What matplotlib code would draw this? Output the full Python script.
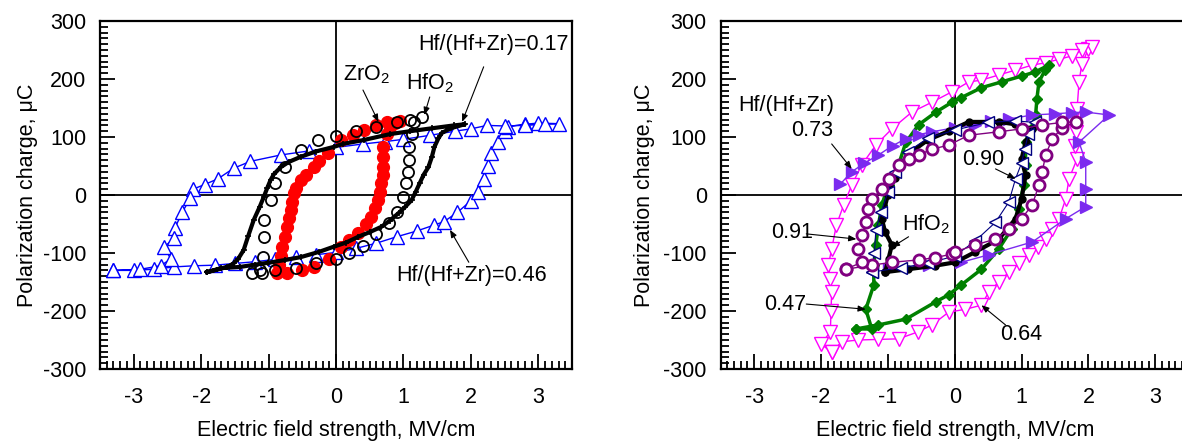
import matplotlib
matplotlib.use("Agg")
import matplotlib.pyplot as plt
from matplotlib.ticker import MultipleLocator

plt.rcParams['font.family'] = ['Liberation Sans', 'DejaVu Sans']
plt.rcParams['axes.unicode_minus'] = False
plt.rcParams['mathtext.fontset'] = 'custom'
plt.rcParams['mathtext.rm'] = 'Liberation Sans'
plt.rcParams['mathtext.default'] = 'regular'

FS = 15.5

# ---------------- Left panel data ----------------
x046 = [-3.3, -3.0, -2.7, -2.4, -2.1, -1.8, -1.5, -1.2, -0.9, -0.6, -0.3, 0.0, 0.3, 0.6, 0.9, 1.2,
        1.45, 1.6, 1.8, 2.0, 2.1, 2.2, 2.25, 2.3, 2.4, 2.5, 2.55, 2.8, 3.0, 3.3,
        3.1, 2.8, 2.5, 2.24, 2.0, 1.76, 1.4, 1.0, 0.72, 0.4, 0.0, -0.4, -0.82, -1.27, -1.52,
        -1.75, -1.95, -2.12, -2.16, -2.28, -2.39, -2.4, -2.55, -2.45, -2.6, -2.9, -3.3]
y046 = [-130, -130, -128, -124, -122, -121, -118, -115, -111, -107, -103, -99, -92, -83, -72, -62,
        -52, -46, -30, -10, 5, 28, 50, 72, 92, 110, 118, 122, 124, 123,
        122, 120, 119, 120, 114, 110, 103, 96, 92, 88, 82, 76, 69, 58, 46,
        28, 18, 10, -5, -30, -57, -74, -90, -110, -122, -128, -130]

x_hfo2_l = [-1.25, -1.1, -0.9, -0.6, -0.3, 0.0, 0.2, 0.4, 0.6, 0.78, 0.9, 1.0, 1.04, 1.07, 1.09,
            1.09, 1.12, 1.16, 1.27, 1.1, 0.9, 0.6, 0.3, 0.0, -0.27, -0.52, -0.75, -0.9, -0.97,
            -1.07, -1.07, -1.09, -1.12]
y_hfo2_l = [-135, -134, -130, -125, -118, -110, -100, -88, -68, -48, -29, -3, 20, 40, 60,
            83, 105, 125, 135, 130, 125, 118, 110, 102, 95, 78, 48, 20, -9,
            -43, -72, -107, -130]

x_zro2 = [-0.87, -0.72, -0.5, -0.33, -0.1, 0.07, 0.2, 0.33, 0.45, 0.52, 0.58, 0.62, 0.65, 0.67,
          0.69, 0.7, 0.7, 0.7, 0.75, 0.8, 0.87, 0.95, 0.75, 0.6, 0.42, 0.25, 0.07, -0.12, -0.25,
          -0.33, -0.45, -0.52, -0.6, -0.63, -0.65, -0.67, -0.7, -0.72, -0.76, -0.8, -0.82, -0.85]
y_zro2 = [-135, -134, -130, -124, -110, -89, -78, -66, -50, -38, -22, -9, 5, 20,
          35, 48, 65, 83, 105, 118, 124, 128, 125, 120, 112, 104, 95, 72, 58,
          48, 35, 26, 12, 3, -12, -26, -40, -55, -72, -89, -105, -120]

x017 = [-1.91, -1.7, -1.42, -1.2, -1.01, -0.75, -0.52, -0.25, -0.03, 0.15, 0.33, 0.5, 0.67, 0.8,
        0.93, 1.03, 1.12, 1.18, 1.24, 1.3, 1.37, 1.42, 1.46, 1.52, 1.57, 1.7, 1.91,
        1.75, 1.42, 1.1, 0.8, 0.42, 0.1, -0.03, -0.3, -0.52, -0.7, -0.82, -0.92, -0.97, -1.02,
        -1.07, -1.13, -1.22, -1.3, -1.37, -1.45, -1.52, -1.61, -1.91]
y017 = [-133, -126, -124, -120, -117, -112, -107, -98, -89, -82, -72, -64, -55, -44,
        -31, -20, -9, 5, 20, 35, 48, 65, 83, 98, 107, 115, 122,
        120, 115, 110, 105, 95, 88, 83, 75, 66, 57, 48, 36, 26, 12,
        -3, -20, -43, -70, -95, -110, -118, -124, -133]

# ---------------- Right panel data ----------------
x064 = [-1.84, -1.69, -1.44, -1.14, -0.84, -0.55, -0.34, -0.09, 0.16, 0.4, 0.51, 0.66, 0.81, 0.96,
        1.11, 1.25, 1.36, 1.46, 1.56, 1.66, 1.71, 1.83, 1.8, 1.81, 1.83, 1.86, 1.9, 2.0, 2.05,
        1.9, 1.76, 1.56, 1.36, 1.16, 0.9, 0.66, 0.4, 0.21, -0.04, -0.34, -0.64, -0.94, -1.18,
        -1.39, -1.54, -1.66, -1.77, -1.84, -1.89, -1.86, -1.84, -1.85, -1.86, -2.0, -1.84]
y064 = [-271, -253, -250, -249, -248, -236, -224, -202, -197, -190, -167, -150, -133, -118,
        -103, -90, -76, -58, -41, -7, 28, 62, 85, 109, 148, 195, 225, 252, 255,
        250, 240, 234, 228, 224, 215, 207, 198, 195, 178, 160, 143, 114, 86,
        52, 17, -17, -52, -93, -121, -145, -167, -200, -236, -257, -271]

x047 = [-1.48, -1.14, -0.73, -0.28, -0.09, 0.1, 0.4, 0.66, 0.85, 0.96, 1.03, 1.06, 1.06, 1.15,
        1.21, 1.23, 1.26, 1.35, 1.41, 1.2, 1.0, 0.7, 0.4, 0.1, -0.04, -0.28, -0.54, -0.73,
        -0.84, -0.99, -1.09, -1.14, -1.18, -1.21, -1.21, -1.33, -1.24, -1.48]
y047 = [-231, -224, -214, -184, -172, -155, -128, -93, -59, -24, 17, 52, 91, 115,
        138, 166, 195, 215, 224, 212, 205, 195, 185, 168, 160, 143, 121, 91,
        52, 17, -17, -52, -86, -121, -155, -197, -231, -231]

x073 = [-1.71, -1.54, -1.35, -1.14, -0.93, -0.73, -0.54, -0.34, 0.0, 0.31, 0.55, 0.81, 1.16,
        1.5, 1.75, 1.96, 2.31, 1.86, 1.96, 1.96, 1.96, 1.66, 1.16, 0.51, 0.1, -0.39, -0.99]
y073 = [19, 40, 55, 69, 85, 97, 104, 109, 116, 121, 127, 131, 138,
        140, 142, 143, 138, 91, 57, 10, -20, -41, -81, -103, -116, -121, -128]

x091 = [-1.63, -1.24, -0.94, -0.54, -0.3, -0.04, 0.01, 0.31, 0.61, 0.81, 1.0, 1.16, 1.26, 1.31,
        1.36, 1.46, 1.6, 1.81, 1.6, 1.31, 1.0, 0.66, 0.21, -0.09, -0.34, -0.54, -0.69, -0.84,
        -0.99, -1.09, -1.24, -1.29, -1.33, -1.39, -1.44, -1.39, -1.63]
y091 = [-128, -121, -116, -112, -108, -102, -98, -86, -76, -59, -41, -17, 17, 40,
        69, 97, 115, 126, 125, 121, 114, 109, 103, 86, 79, 69, 62, 52,
        28, 10, -7, -24, -47, -69, -93, -116, -128]

x_hfo2_r = [-1.04, -0.7, -0.3, 0.01, 0.31, 0.66, 0.91, 1.0, 1.06, 1.0, 1.06, 1.16, 0.9, 0.66,
            0.21, -0.09, -0.4, -0.7, -0.9, -1.0, -1.09, -1.04, -0.94, -0.99, -1.04]
y_hfo2_r = [-133, -128, -122, -116, -98, -76, -41, -7, 34, 62, 91, 114, 122, 126,
            126, 110, 95, 70, 30, 0, -41, -64, -86, -110, -133]

x090 = [-1.24, -0.8, -0.4, 0.0, 0.3, 0.61, 0.81, 0.91, 1.0, 1.05, 1.1, 1.2, 0.9, 0.5, 0.0,
        -0.4, -0.7, -0.9, -1.0, -1.1, -1.18, -1.2, -1.24]
y090 = [-133, -125, -118, -105, -80, -47, -12, 28, 55, 80, 105, 125, 128, 125, 112,
        98, 75, 40, 5, -30, -60, -100, -133]

xticks = [-3, -2, -1, 0, 1, 2, 3]
yticks = [-300, -200, -100, 0, 100, 200, 300]

fig = plt.figure(figsize=(11.82, 4.41), dpi=100)
axL = fig.add_axes([100/1182, 1-369/441, 472/1182, 348/441])
axR = fig.add_axes([720.7/1182, 1-369/441, 468/1182, 348/441])


def style(ax, ylab_x):
    ax.set_xlim(-3.5, 3.5)
    ax.set_ylim(-300, 300)
    ax.set_xticks(xticks)
    ax.set_yticks(yticks)
    ax.xaxis.set_minor_locator(MultipleLocator(0.1))
    ax.yaxis.set_minor_locator(MultipleLocator(10))
    ax.tick_params(which='both', direction='in', top=False, right=False,
                   labelsize=FS, colors='black', width=1.3)
    ax.tick_params(which='major', length=10.5, pad=10)
    ax.tick_params(axis='x', which='major', pad=13)
    ax.tick_params(which='minor', length=5.5)
    for s in ax.spines.values():
        s.set_linewidth(1.6)
    ax.axhline(0, color='black', lw=1.3, zorder=1)
    ax.axvline(0, color='black', lw=1.3, zorder=1)
    ax.set_xlabel('Electric field strength, MV/cm', fontsize=FS)
    ax.set_ylabel('Polarization charge, \u03bcC', fontsize=FS)
    ax.xaxis.label.set_va('baseline')
    ax.xaxis.set_label_coords(0.5, -0.193)
    ax.yaxis.set_label_coords(ylab_x, 0.5)


style(axL, -0.132)
style(axR, -0.140)

# Left panel plotting
axL.plot(x046, y046, color='blue', lw=1.0, marker='^', ms=10, mfc='white', mec='blue', mew=1.0, zorder=2)
axL.plot(x_zro2, y_zro2, color='red', lw=0, marker='o', ms=8.5, mfc='red', mec='red', zorder=3)
axL.plot(x_hfo2_l, y_hfo2_l, color='black', lw=0, marker='o', ms=8, mfc='none', mec='black', mew=1.3, zorder=4)
axL.plot(x017, y017, color='black', lw=3.0, marker='+', ms=5, mew=1.2, zorder=5)


def arrow(ax, start, end):
    ax.annotate('', xy=end, xytext=start,
                arrowprops=dict(arrowstyle='-|>,head_length=0.45,head_width=0.18',
                                color='black', lw=0.8, shrinkA=0, shrinkB=0), zorder=10)


axL.text(0.45, 207, 'ZrO$_2$', fontsize=FS, ha='center', va='center')
arrow(axL, (0.40, 181), (0.63, 126))
axL.text(1.39, 193, 'HfO$_2$', fontsize=FS, ha='center', va='center')
arrow(axL, (1.39, 169), (1.31, 138))
axL.text(2.34, 259, 'Hf/(Hf+Zr)=0.17', fontsize=FS, ha='center', va='center')
arrow(axL, (2.19, 221), (1.87, 126))
axL.text(2.01, -138, 'Hf/(Hf+Zr)=0.46', fontsize=FS, ha='center', va='center')
arrow(axL, (1.97, -116), (1.69, -60))

# Right panel plotting
axR.plot(x064, y064, color='#FF00FF', lw=1.0, marker='v', ms=10, mfc='white', mec='#FF00FF', mew=1.0, zorder=2)
axR.plot(x047, y047, color='#008000', lw=2.5, marker='D', ms=5, mfc='#008000', mec='#008000', zorder=3)
axR.plot(x073, y073, color='#7B2BEF', lw=1.0, marker='>', ms=9, mfc='#7B2BEF', mec='#7B2BEF', zorder=4)
axR.plot(x_hfo2_r, y_hfo2_r, color='black', lw=3.0, marker='o', ms=5, mfc='black', mec='black', zorder=5)
axR.plot(x090, y090, color='#000080', lw=0.8, marker='<', ms=9, mfc='white', mec='#000080', mew=1.0, zorder=6)
axR.plot(x091, y091, color='#800080', lw=1.0, marker='o', ms=8, mfc='white', mec='#800080', mew=2.0, zorder=7)

axR.text(-2.52, 155, 'Hf/(Hf+Zr)', fontsize=FS, ha='center', va='center')
axR.text(-2.14, 112, '0.73', fontsize=FS, ha='center', va='center')
arrow(axR, (-1.84, 88), (-1.54, 45))
axR.text(-2.44, -64, '0.91', fontsize=FS, ha='center', va='center')
arrow(axR, (-2.22, -67), (-1.47, -76))
axR.text(-2.53, -188, '0.47', fontsize=FS, ha='center', va='center')
arrow(axR, (-2.22, -188), (-1.33, -197))
axR.text(-0.43, -50, 'HfO$_2$', fontsize=FS, ha='center', va='center', zorder=11)
arrow(axR, (-0.69, -72), (-0.94, -90))
axR.text(0.43, 62, '0.90', fontsize=FS, ha='center', va='center', zorder=11)
arrow(axR, (0.61, 45), (0.91, 28))
axR.text(0.99, -241, '0.64', fontsize=FS, ha='center', va='center')
arrow(axR, (0.76, -224), (0.4, -190))

fig.savefig('out.png', dpi=100)
